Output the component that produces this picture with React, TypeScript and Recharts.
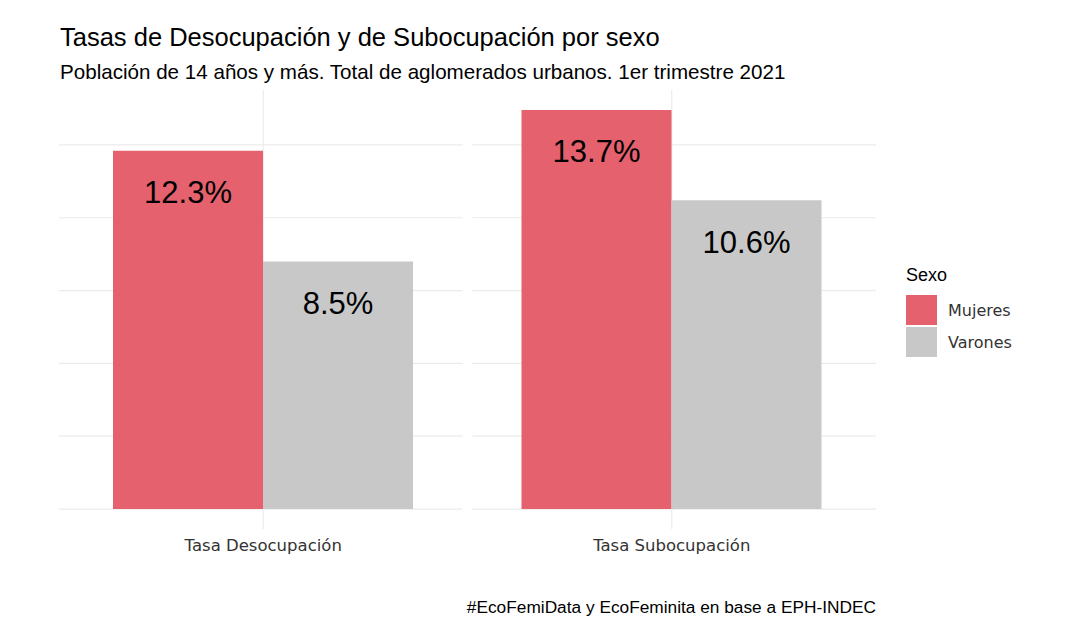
import React from "react";
import { BarChart, Bar, XAxis, YAxis, CartesianGrid, LabelList } from "recharts";

const categories = ["Tasa Desocupación", "Tasa Subocupación"];
const mujeres = [12.3, 13.7];
const varones = [8.5, 10.6];
const seriesNames = ["Mujeres", "Varones"];
const seriesColors = ["#E5616E", "#C8C8C8"];
const yTicks = [0, 2.5, 5, 7.5, 10, 12.5];

const titleText = "Tasas de Desocupación y de Subocupación por sexo";
const subtitleText = "Población de 14 años y más. Total de aglomerados urbanos. 1er trimestre 2021";
const captionText = "#EcoFemiData y EcoFeminita en base a EPH-INDEC";
const legendTitle = "Sexo";

const data = categories.map((c, i) => ({ cat: c, Mujeres: mujeres[i], Varones: varones[i] }));
const maxVal = Math.max(...mujeres, ...varones);
const yDomain = [-maxVal * 0.05, maxVal * 1.05];

const SANS = "'Liberation Sans', Arial, sans-serif";
const DEJA = "'DejaVu Sans', sans-serif";
const GRID = "#EBEBEB";

const HLine = (p: any) => {
  const top = p.y;
  const bottom = p.y + p.height;
  if (Math.abs(p.y1 - top) < 1 || Math.abs(p.y1 - bottom) < 1) return <g key={p.key} />;
  const mid = (p.x1 + p.x2) / 2;
  return (
    <g key={p.key}>
      <line x1={p.x1} x2={mid - 5} y1={p.y1} y2={p.y2} stroke={GRID} strokeWidth={1.2} />
      <line x1={mid + 5} x2={p.x2} y1={p.y1} y2={p.y2} stroke={GRID} strokeWidth={1.2} />
    </g>
  );
};

const VLine = (p: any) => {
  const left = p.x;
  const right = p.x + p.width;
  if (Math.abs(p.x1 - left) < 1 || Math.abs(p.x1 - right) < 1) return <g key={p.key} />;
  return <line key={p.key} x1={p.x1} x2={p.x2} y1={p.y1} y2={p.y2} stroke={GRID} strokeWidth={1.2} />;
};

const BarLabel = (props: any) => {
  const { x, y, width, value } = props;
  return (
    <text
      x={x + width / 2}
      y={y + 42}
      textAnchor="middle"
      dominantBaseline="central"
      fontFamily={SANS}
      fontSize={31}
      fill="#000"
    >
      {`${Number(value).toFixed(1)}%`}
    </text>
  );
};

export default function App() {
  return (
    <div style={{ position: "absolute", left: 0, top: 0, width: 1080, height: 641, background: "#fff" }}>
      <div style={{ position: "absolute", left: 60, top: 22, fontFamily: SANS, fontSize: 25.5, color: "#000", whiteSpace: "nowrap", lineHeight: "30px" }}>
        {titleText}
      </div>
      <div style={{ position: "absolute", left: 60, top: 60, fontFamily: SANS, fontSize: 20.6, color: "#000", whiteSpace: "nowrap", lineHeight: "24px" }}>
        {subtitleText}
      </div>
      <BarChart
        width={1080}
        height={641}
        data={data}
        margin={{ top: 90, right: 204, left: 59, bottom: 82 }}
        barGap={0}
        barSize={150}
      >
        <CartesianGrid horizontal={HLine} vertical={VLine} />
        <XAxis
          dataKey="cat"
          axisLine={false}
          tickLine={false}
          height={30}
          tickMargin={4}
          tick={{ fontFamily: DEJA, fontSize: 16.5, fill: "#333" }}
        />
        <YAxis hide type="number" domain={yDomain} ticks={yTicks} allowDataOverflow />
        {seriesNames.map((s, i) => (
          <Bar key={s} dataKey={s} fill={seriesColors[i]} isAnimationActive={false}>
            <LabelList dataKey={s} content={BarLabel} />
          </Bar>
        ))}
      </BarChart>
      <div style={{ position: "absolute", left: 906, top: 263, fontFamily: DEJA }}>
        <div style={{ fontFamily: SANS, fontSize: 18, color: "#000", lineHeight: "24px", marginBottom: 7 }}>{legendTitle}</div>
        {seriesNames.map((s, i) => (
          <div key={s} style={{ display: "flex", alignItems: "center", height: 32 }}>
            <div style={{ width: 31, height: 30, background: seriesColors[i] }} />
            <div style={{ marginLeft: 11, fontSize: 16, color: "#333" }}>{s}</div>
          </div>
        ))}
      </div>
      <div style={{ position: "absolute", right: 1080 - 876, top: 596, fontFamily: SANS, fontSize: 17.3, color: "#000", whiteSpace: "nowrap", lineHeight: "22px" }}>
        {captionText}
      </div>
    </div>
  );
}
